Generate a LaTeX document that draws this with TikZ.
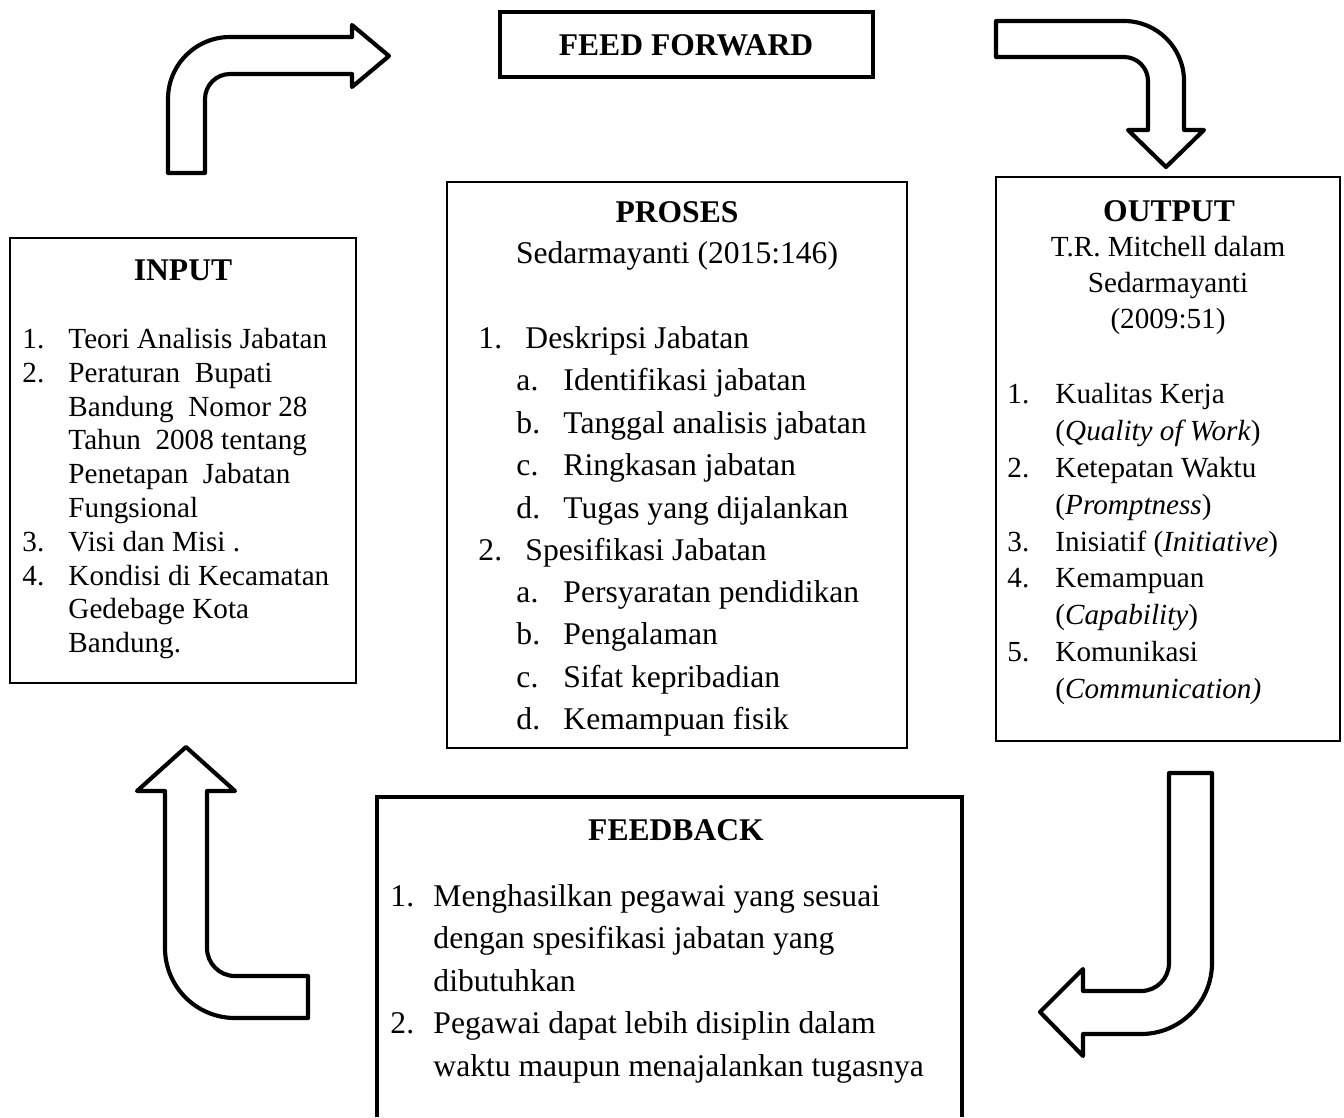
\documentclass[tikz,border=0pt]{standalone}
\usepackage{fontspec}
\setmainfont{Liberation Serif}
\usepackage{tikz}

\begin{document}
\begin{tikzpicture}[x=0.4115pt, y=-0.4115pt,
	thinbox/.style={line width=0.8pt},
	thickbox/.style={line width=1.7pt},
	bentarrow/.style={line width=1.7pt, line join=round, fill=white},
	head/.style={anchor=base, inner sep=0pt, font=\fontsize{13}{15}\selectfont\bfseries},
	smalltxt/.style={anchor=base west, inner sep=0pt, font=\fontsize{12}{14}\selectfont},
	bigtxt/.style={anchor=base west, inner sep=0pt, font=\fontsize{13}{15}\selectfont}]
	\useasboundingbox (0,0) rectangle (1344,1117);
	%boxes
	\draw[thickbox] (500,12) rectangle (873,77);
	\draw[thinbox] (10,238) rectangle (356,683);
	\draw[thinbox] (447,182) rectangle (907,748);
	\draw[thinbox] (996,177) rectangle (1340,741);
	\draw[thickbox] (377,1117) -- (377,797) -- (962,797) -- (962,1117);
	%arrows
	\draw[bentarrow] (168,173) -- (168,99) arc [start angle = 180, end angle = 270, radius = 62] -- (352,37) -- (352,25) -- (389,56) -- (352,87) -- (352,74) -- (230,74) arc [start angle = 270, end angle = 180, radius = 25] -- (205,173) -- cycle;
	\draw[bentarrow] (996,21) -- (1124,21) arc [start angle = 270, end angle = 360, radius = 60] -- (1184,130) -- (1204,130) -- (1166,167) -- (1128,130) -- (1148,130) -- (1148,81) arc [start angle = 0, end angle = -90, radius = 24] -- (996,57) -- cycle;
	\draw[bentarrow] (1169,773) -- (1212,773) -- (1212,963) arc [start angle = 0, end angle = 90, radius = 71] -- (1083,1034) -- (1083,1056) -- (1040,1012) -- (1083,969) -- (1083,991) -- (1141,991) arc [start angle = 90, end angle = 0, radius = 28] -- cycle;
	\draw[bentarrow] (308,976) -- (235,976) arc [start angle = 90, end angle = 180, radius = 28] -- (207,791) -- (235,791) -- (186,747) -- (137,791) -- (165,791) -- (165,948) arc [start angle = 180, end angle = 90, radius = 70] -- (308,1018) -- cycle;
	%feed forward
	\node[head] (fwd) at (686,55) {FEED FORWARD};
	%input
	\node[head] (intitle) at (183,280) {INPUT};
	\node[smalltxt] (in1n) at (22,348) {1.};
	\node[smalltxt] (in1) at (68,348) {Teori Analisis Jabatan};
	\node[smalltxt] (in2n) at (22,382) {2.};
	\node[smalltxt] (in2) at (68,382) {Peraturan\ \ Bupati};
	\node[smalltxt] (in2b) at (68,416) {Bandung\ \ Nomor 28};
	\node[smalltxt] (in2c) at (68,449) {Tahun\ \ 2008 tentang};
	\node[smalltxt] (in2d) at (68,483) {Penetapan\ \ Jabatan};
	\node[smalltxt] (in2e) at (68,517) {Fungsional};
	\node[smalltxt] (in3n) at (22,551) {3.};
	\node[smalltxt] (in3) at (68,551) {Visi dan Misi .};
	\node[smalltxt] (in4n) at (22,585) {4.};
	\node[smalltxt] (in4) at (68,585) {Kondisi di Kecamatan};
	\node[smalltxt] (in4b) at (68,618) {Gedebage Kota};
	\node[smalltxt] (in4c) at (68,652) {Bandung.};
	%proses
	\node[head] (prtitle) at (677,222) {PROSES};
	\node[bigtxt, anchor=base] (prsrc) at (677,263) {Sedarmayanti (2015:146)};
	\node[bigtxt] (pr1n) at (478,348) {1.};
	\node[bigtxt] (pr1) at (525,348) {Deskripsi Jabatan};
	\node[bigtxt] (pr1an) at (516,390) {a.};
	\node[bigtxt] (pr1a) at (563,390) {Identifikasi jabatan};
	\node[bigtxt] (pr1bn) at (516,433) {b.};
	\node[bigtxt] (pr1b) at (563,433) {Tanggal analisis jabatan};
	\node[bigtxt] (pr1cn) at (516,475) {c.};
	\node[bigtxt] (pr1c) at (563,475) {Ringkasan jabatan};
	\node[bigtxt] (pr1dn) at (516,518) {d.};
	\node[bigtxt] (pr1d) at (563,518) {Tugas yang dijalankan};
	\node[bigtxt] (pr2n) at (478,560) {2.};
	\node[bigtxt] (pr2) at (525,560) {Spesifikasi Jabatan};
	\node[bigtxt] (pr2an) at (516,602) {a.};
	\node[bigtxt] (pr2a) at (563,602) {Persyaratan pendidikan};
	\node[bigtxt] (pr2bn) at (516,644) {b.};
	\node[bigtxt] (pr2b) at (563,644) {Pengalaman};
	\node[bigtxt] (pr2cn) at (516,687) {c.};
	\node[bigtxt] (pr2c) at (563,687) {Sifat kepribadian};
	\node[bigtxt] (pr2dn) at (516,729) {d.};
	\node[bigtxt] (pr2d) at (563,729) {Kemampuan fisik};
	%output
	\node[head] (outtitle) at (1169,221) {OUTPUT};
	\node[smalltxt, anchor=base] (outsrc) at (1168,256) {T.R. Mitchell dalam};
	\node[smalltxt, anchor=base] (outsrcb) at (1168,292) {Sedarmayanti};
	\node[smalltxt, anchor=base] (outsrcc) at (1168,328) {(2009:51)};
	\node[smalltxt] (out1n) at (1007,403) {1.};
	\node[smalltxt] (out1) at (1055,403) {Kualitas Kerja};
	\node[smalltxt] (out1b) at (1055,440) {(\textit{Quality of Work})};
	\node[smalltxt] (out2n) at (1007,477) {2.};
	\node[smalltxt] (out2) at (1055,477) {Ketepatan Waktu};
	\node[smalltxt] (out2b) at (1055,514) {(\textit{Promptness})};
	\node[smalltxt] (out3n) at (1007,551) {3.};
	\node[smalltxt] (out3) at (1055,551) {Inisiatif (\textit{Initiative})};
	\node[smalltxt] (out4n) at (1007,587) {4.};
	\node[smalltxt] (out4) at (1055,587) {Kemampuan};
	\node[smalltxt] (out4b) at (1055,624) {(\textit{Capability})};
	\node[smalltxt] (out5n) at (1007,661) {5.};
	\node[smalltxt] (out5) at (1055,661) {Komunikasi};
	\node[smalltxt] (out5b) at (1055,698) {(\textit{Communication)}};
	%feedback
	\node[head] (fbtitle) at (676,840) {FEEDBACK};
	\node[bigtxt] (fb1n) at (390,906) {1.};
	\node[bigtxt] (fb1) at (433,906) {Menghasilkan pegawai yang sesuai};
	\node[bigtxt] (fb1b) at (433,948) {dengan spesifikasi jabatan yang};
	\node[bigtxt] (fb1c) at (433,991) {dibutuhkan};
	\node[bigtxt] (fb2n) at (390,1033) {2.};
	\node[bigtxt] (fb2) at (433,1033) {Pegawai dapat lebih disiplin dalam};
	\node[bigtxt] (fb2b) at (433,1076) {waktu maupun menajalankan tugasnya};
\end{tikzpicture}
\end{document}
